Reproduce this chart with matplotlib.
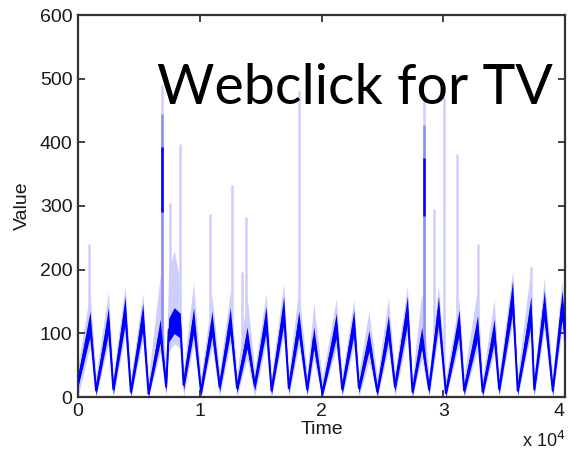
import numpy as np
import matplotlib
matplotlib.use("Agg")
import matplotlib.pyplot as plt

# ---- data -----------------------------------------------------------------
# key points of the daily saw-tooth: time, centre of dense band, top of faint band
key_t = [0, 988, 1480, 2494, 2900, 3868, 4340, 5325, 5790, 6749, 7240,
         7450, 7900, 8400, 8670, 9490, 10100, 11004, 11630, 12510, 13060,
         13885, 14510, 15449, 15890, 16897, 17310, 18132, 18820, 19366,
         20060, 21210, 21700, 22658, 23070, 23893, 24580, 25490, 26030,
         27053, 27470, 28230, 28830, 29605, 30210, 31300, 31710, 32815,
         33230, 34181, 34590, 35695, 36110, 37202, 37470, 38296, 38990,
         39753, 40000]
key_v = [25, 115, 10, 120, 12, 136, 8, 126, 5, 104, 16,
         105, 120, 112, 19, 120, 8, 115, 16, 120, 14,
         93, 18, 122, 10, 136, 14, 115, 12, 93,
         6, 112, 12, 117, 14, 88, 8, 109, 16,
         136, 8, 93, 12, 136, 6, 117, 10, 109,
         8, 104, 12, 158, 10, 136, 12, 144, 10,
         144, 100]
key_top = [50, 165, 35, 165, 35, 165, 30, 158, 30, 191, 40,
           200, 230, 180, 40, 180, 30, 160, 35, 167, 35,
           160, 40, 164, 30, 180, 35, 170, 35, 148,
           30, 154, 35, 151, 35, 135, 30, 156, 35,
           167, 30, 164, 35, 164, 30, 143, 35, 170,
           30, 154, 35, 190, 35, 204, 35, 188, 35,
           180, 140]

# isolated spikes: time, peak value
spike_t = [905, 6889, 7572, 8395, 10864, 12650, 13473, 13802, 18189,
           28420, 29243, 30066, 31169, 32815, 37202]
spike_v = [240, 490, 305, 397, 288, 333, 197, 283, 480,
           475, 295, 471, 381, 241, 204]
# denser parts of the two largest spikes: time, bottom, top
dense_spike_t = [6889, 28420]
dense_spike_lo = [291, 285]
dense_spike_hi = [392, 375]
mid_spike_hi = [444, 428]

x_ticks = [0, 10000, 20000, 30000, 40000]
x_tick_labels = ["0", "1", "2", "3", "4"]
y_ticks = [0, 100, 200, 300, 400, 500, 600]

# ---- drawing ----------------------------------------------------------------
DARK = "#0000ff"
MID = "#8c8cff"
LIGHT = "#cfcfff"

fig = plt.figure(figsize=(5.68, 4.54), dpi=100)
ax = fig.add_axes([78 / 568, 57 / 454, (565 - 78) / 568, (397 - 15) / 454])

t = np.array(key_t, float)
v = np.array(key_v, float)
top = np.array(key_top, float)
hw = 6 + 0.12 * v
halo_lo = np.clip(v - hw - 16, 0, None)
halo_hi = np.maximum(top, v + hw + 16)

ax.fill_between(t, halo_lo, halo_hi, color=LIGHT, lw=0, zorder=1)
base = np.interp(spike_t, t, v)
ax.vlines(spike_t, base, spike_v, color=LIGHT, lw=1.8, zorder=2)
ax.vlines(dense_spike_t, np.interp(dense_spike_t, t, v), mid_spike_hi,
          color=MID, lw=1.8, zorder=2)
ax.vlines(dense_spike_t, dense_spike_lo, dense_spike_hi, color=DARK, lw=1.8,
          zorder=3)
ax.fill_between(t, np.clip(v - hw, 0, None), v + hw, color=DARK, lw=0,
                zorder=3)
ax.plot(t, v, color=DARK, lw=1.4, zorder=4)

ax.set_xlim(0, 40000)
ax.set_ylim(0, 600)
ax.set_xticks(x_ticks)
ax.set_xticklabels(x_tick_labels)
ax.set_yticks(y_ticks)

tick_font = dict(family="Liberation Sans", size=14)
for lab in ax.get_xticklabels() + ax.get_yticklabels():
    lab.set_fontfamily("Liberation Sans")
    lab.set_fontsize(14)
# last x label sits at the figure edge: keep it inside
ax.get_xticklabels()[-1].set_horizontalalignment("right")
ax.tick_params(direction="in", length=5, width=1.2, top=True, right=True,
               pad=4, colors="#222222", labelcolor="#1a1a1a")
for s in ax.spines.values():
    s.set_linewidth(1.6)
    s.set_color("#333333")

ax.set_xlabel("Time", fontdict=tick_font, labelpad=1, color="#1a1a1a")
ax.set_ylabel("Value", fontdict=tick_font, labelpad=6, color="#1a1a1a")

fig.text(522 / 568, 1 - 441 / 454, "x 10$^4$", family="Liberation Sans",
         size=13, va="center", ha="left", color="#1a1a1a")

fig.text(157 / 568, 1 - 104 / 454, "Webclick for TV", family="Lato",
         size=40, va="baseline", ha="left", color="black", zorder=10)

fig.savefig("out.png", dpi=100)
